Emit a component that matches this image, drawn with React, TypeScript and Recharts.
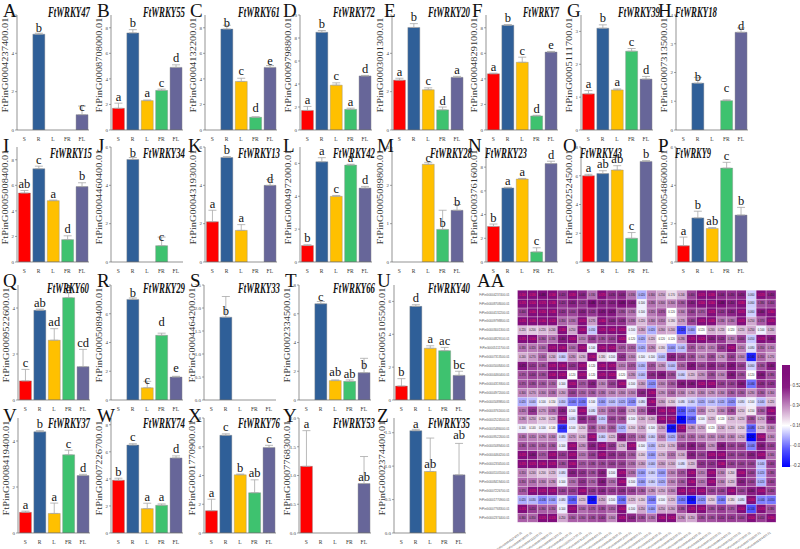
import React from "react";
import { BarChart, Bar, XAxis, YAxis, ErrorBar, LabelList, Cell, ScatterChart, Scatter } from "recharts";

const SERIF = "'Liberation Serif', 'Times New Roman', serif";

// ---------- expression panels ----------
const tissues = ["S", "R", "L", "FR", "FL"];

const panelLetters = ["A", "B", "C", "D", "E", "F", "G", "H", "I", "J", "K", "L", "M", "N", "O", "P", "Q", "R", "S", "T", "U", "V", "W", "X", "Y", "Z"];

const geneNames = [
  "FtWRKY47", "FtWRKY55", "FtWRKY61", "FtWRKY72", "FtWRKY20", "FtWRKY7", "FtWRKY39", "FtWRKY18",
  "FtWRKY15", "FtWRKY34", "FtWRKY13", "FtWRKY42", "FtWRKY28", "FtWRKY23", "FtWRKY43", "FtWRKY9",
  "FtWRKY60", "FtWRKY29", "FtWRKY33", "FtWRKY66", "FtWRKY40",
  "FtWRKY37", "FtWRKY74", "FtWRKY76", "FtWRKY53", "FtWRKY35",
];

const geneIds = [
  "FtPinG0004237400.01", "FtPinG0008708000.01", "FtPinG0004132200.01", "FtPinG0009798800.01",
  "FtPinG0003001300.01", "FtPinG0004829100.01", "FtPinG0005111700.01", "FtPinG0007313500.01",
  "FtPinG0005008400.01", "FtPinG0004460400.01", "FtPinG0004319300.01", "FtPinG0004972000.01",
  "FtPinG0005089800.01", "FtPinG0003761600.01", "FtPinG0002524500.01", "FtPinG0005486000.01",
  "FtPinG0009522600.01", "FtPinG0005089400.01", "FtPinG0004464200.01", "FtPinG0002334500.01",
  "FtPinG0005105500.01", "FtPinG0008419400.01", "FtPinG0007226700.01", "FtPinG0001770900.01",
  "FtPinG0007768300.01", "FtPinG0002374400.01",
];

// relative expression, order S, R, L, FR, FL
const expression = [
  [0, 5.0, 0, 0, 0.8],
  [1.7, 7.6, 2.3, 3.1, 4.9],
  [0, 7.9, 3.8, 1.0, 4.9],
  [1.7, 8.5, 3.9, 1.8, 4.7],
  [2.6, 5.35, 2.1, 1.05, 2.75],
  [4.4, 8.2, 5.3, 1.1, 6.1],
  [1.1, 3.1, 1.22, 2.4, 1.55],
  [0, 1.63, 0, 1.02, 3.4],
  [5.4, 7.3, 4.8, 1.75, 5.9],
  [0, 5.35, 0, 0.85, 0],
  [2.1, 5.45, 1.65, 0, 4.0],
  [1.0, 6.1, 4.0, 5.9, 4.5],
  [0, 0, 2.55, 0.85, 1.35],
  [3.0, 6.25, 7.0, 0.85, 8.3],
  [6.0, 6.15, 6.4, 1.65, 7.0],
  [0.85, 2.3, 1.75, 4.9, 2.45],
  [0.83, 3.9, 2.6, 4.45, 1.45],
  [0, 7.0, 0.85, 4.5, 1.6],
  [0, 1.8, 0, 0, 0],
  [0, 6.7, 1.35, 1.3, 1.9],
  [0.85, 5.7, 3.15, 3.0, 1.5],
  [0.9, 4.4, 0.85, 3.4, 2.5],
  [3.9, 6.5, 1.8, 2.05, 5.55],
  [1.55, 6.8, 4.05, 2.8, 5.95],
  [1.16, 0, 0, 0, 0.86],
  [0, 1.53, 0.92, 0, 0.87],
];

const errors = [
  [0, 0.05, 0, 0, 0.45],
  [0.4, 0.25, 0.05, 0.1, 0.2],
  [0, 0.3, 0.25, 0.03, 0.15],
  [0.35, 0.15, 0.2, 0.1, 0.05],
  [0.1, 0.2, 0.1, 0.15, 0.05],
  [0.05, 0.05, 0.4, 0.05, 0.05],
  [0.1, 0.1, 0.03, 0.08, 0.08],
  [0, 0.2, 0, 0.03, 0.15],
  [0.2, 0.2, 0.05, 0.3, 0.3],
  [0, 0.1, 0, 0.45, 0],
  [0.6, 0.05, 0.3, 0, 0.3],
  [0.05, 0.25, 0.05, 0.05, 0.1],
  [0, 0, 0.05, 0.5, 0.15],
  [0.2, 0.05, 0.05, 0.35, 0.2],
  [0.1, 0.2, 0.3, 0.4, 0.05],
  [0.45, 0.35, 0.05, 0.3, 0.4],
  [0.5, 0.05, 0.5, 0.2, 0.75],
  [0, 0.1, 0.45, 0.15, 0.05],
  [0, 0.45, 0, 0, 0],
  [0, 0.15, 0.05, 0.1, 1.0],
  [0.45, 0.1, 0.15, 0.2, 0.25],
  [0.05, 0.05, 0.45, 0.2, 0.05],
  [0.15, 0.1, 0.4, 0.1, 0.15],
  [0.8, 0.1, 0.05, 0.9, 0.15],
  [0.62, 0, 0, 0, 0.47],
  [0, 0.02, 0.5, 0, 0.47],
];

const sigLetters = [
  ["a", "b", "a", "a", "c"],
  ["a", "b", "a", "c", "d"],
  ["a", "b", "c", "d", "e"],
  ["a", "b", "c", "a", "d"],
  ["a", "b", "c", "d", "a"],
  ["a", "b", "c", "d", "e"],
  ["a", "b", "a", "c", "d"],
  ["a", "b", "a", "c", "d"],
  ["ab", "c", "a", "d", "b"],
  ["a", "b", "a", "c", "a"],
  ["a", "b", "a", "c", "d"],
  ["b", "a", "c", "a", "d"],
  ["a", "a", "c", "b", "b"],
  ["b", "a", "a", "c", "d"],
  ["a", "ab", "ab", "c", "b"],
  ["a", "b", "ab", "c", "b"],
  ["c", "ab", "ad", "a", "cd"],
  ["a", "b", "c", "d", "e"],
  ["a", "b", "a", "a", "a"],
  ["a", "c", "ab", "ab", "b"],
  ["b", "d", "a", "ac", "bc"],
  ["a", "b", "a", "c", "d"],
  ["b", "c", "a", "a", "d"],
  ["a", "c", "b", "ab", "c"],
  ["a", "b", "b", "b", "ab"],
  ["b", "a", "ab", "b", "ab"],
];

const yMax = [6, 9, 9, 10, 6, 9, 3.5, 4, 9, 6, 6, 7, 3, 9.7, 8, 6, 5, 8, 2.5, 8, 7, 5, 8.5, 8, 2, 1.72];

const yTicks = [
  [0, 2, 4, 6], [0, 2, 4, 6, 8], [0, 2, 4, 6, 8], [0, 2, 4, 6, 8, 10],
  [0, 2, 4, 6], [0, 2, 4, 6, 8], [0, 1, 2, 3], [0, 1, 2, 3, 4],
  [0, 2, 4, 6, 8], [0, 2, 4, 6], [0, 2, 4, 6], [0, 2, 4, 6],
  [0, 1, 2, 3], [0, 2, 4, 6, 8], [0, 2, 4, 6, 8], [0, 2, 4, 6],
  [0, 2, 4], [0, 2, 4, 6, 8], [0, 0.5, 1, 1.5, 2, 2.5], [0, 2, 4, 6, 8], [0, 2, 4, 6],
  [0, 2, 4], [0, 2, 4, 6, 8], [0, 2, 4, 6, 8], [0, 0.5, 1, 1.5, 2], [0, 0.5, 1, 1.5],
];

// ---------- heatmap ----------
const heatValues = [
  [0.50, 0.58, 0.48, 0.56, 0.42, 0.58, 0.44, 0.33, 0.57, 0.43, 0.44, 0.33, 0.02, 0.30, 0.25, 0.17, 0.24, 0.40, 0.57, 0.58, 0.44, 0.43, 0.45, 0.06, 0.57, 0.45],
  [0.57, 0.50, 0.57, 0.58, 0.42, 0.45, 0.42, 0.48, 0.45, 0.45, 0.48, 0.45, 0.10, 0.33, 0.30, 0.30, 0.36, 0.45, 0.50, 0.56, 0.48, 0.45, 0.58, 0.06, 0.38, 0.40],
  [0.40, 0.56, 0.55, 0.58, 0.42, 0.40, 0.45, 0.42, 0.47, 0.47, 0.38, 0.33, 0.10, 0.32, 0.37, 0.12, 0.30, 0.40, 0.37, 0.57, 0.42, 0.45, 0.57, 0.06, 0.46, 0.56],
  [0.57, 0.58, 0.56, 0.52, 0.35, 0.33, 0.57, 0.27, 0.56, 0.44, 0.43, 0.33, 0.22, 0.30, 0.31, 0.18, 0.27, 0.40, 0.57, 0.58, 0.33, 0.33, 0.57, 0.25, 0.37, 0.57],
  [0.22, 0.20, 0.22, 0.24, 0.58, 0.25, 0.56, 0.05, 0.57, 0.56, 0.55, 0.10, 0.26, 0.02, 0.26, 0.24, -0.12, 0.00, 0.12, 0.24, 0.22, 0.12, 0.22, 0.25, 0.10, 0.24],
  [0.57, 0.50, 0.36, 0.33, 0.46, 0.55, 0.31, 0.40, 0.38, 0.40, 0.52, 0.12, 0.02, 0.22, 0.12, 0.12, 0.28, 0.57, 0.52, 0.45, 0.42, 0.31, 0.40, 0.05, 0.57, 0.46],
  [0.33, 0.32, 0.34, 0.57, 0.56, 0.34, 0.55, 0.10, 0.52, 0.52, 0.37, 0.35, 0.02, 0.29, 0.18, 0.00, 0.04, 0.37, 0.31, 0.31, 0.41, 0.52, 0.31, 0.08, 0.35, 0.31],
  [0.24, 0.27, 0.34, 0.24, 0.06, 0.28, 0.23, 0.56, 0.18, 0.10, 0.42, 0.30, 0.10, 0.10, 0.04, 0.45, 0.40, 0.38, 0.30, 0.38, 0.28, 0.40, 0.30, -0.16, 0.35, 0.27],
  [0.47, 0.41, 0.38, 0.57, 0.56, 0.42, 0.57, 0.12, 0.52, 0.57, 0.31, 0.37, 0.03, 0.37, 0.28, 0.04, 0.35, 0.47, 0.40, 0.45, 0.40, 0.47, 0.40, 0.06, 0.38, 0.46],
  [0.37, 0.40, 0.38, 0.50, 0.52, 0.12, 0.57, 0.12, 0.57, 0.52, 0.12, 0.28, 0.04, 0.43, 0.46, 0.38, 0.06, 0.22, 0.28, 0.38, 0.30, 0.46, 0.38, 0.12, 0.46, 0.38],
  [0.37, 0.38, 0.36, 0.35, 0.10, 0.55, 0.37, 0.45, 0.30, 0.40, 0.55, 0.10, 0.26, -0.02, 0.30, 0.36, 0.46, 0.46, 0.52, 0.57, 0.40, 0.40, 0.46, -0.06, 0.43, 0.42],
  [0.30, 0.27, 0.30, 0.33, 0.26, 0.40, 0.35, 0.36, 0.33, 0.30, 0.30, 0.30, 0.44, 0.55, 0.28, 0.34, 0.30, 0.26, 0.30, 0.28, 0.30, 0.36, 0.36, 0.28, 0.36, 0.30],
  [0.02, 0.04, 0.10, 0.15, 0.05, -0.04, -0.05, 0.10, 0.00, 0.04, 0.02, -0.02, 0.08, 0.56, 0.26, 0.20, 0.08, 0.06, 0.02, 0.04, 0.02, -0.02, 0.08, 0.10, 0.04, 0.22],
  [0.32, 0.42, 0.27, 0.33, 0.45, 0.10, 0.55, 0.08, 0.31, 0.36, 0.40, 0.23, 0.35, 0.47, 0.56, 0.56, -0.10, -0.03, 0.31, 0.21, 0.30, 0.38, 0.21, 0.15, 0.36, 0.50],
  [0.28, 0.25, 0.20, 0.22, 0.56, 0.08, 0.44, 0.40, 0.05, 0.40, 0.38, 0.10, 0.24, 0.24, 0.56, 0.56, -0.20, -0.08, 0.10, 0.22, 0.12, 0.22, 0.22, 0.38, 0.25, 0.45],
  [0.10, 0.14, 0.10, 0.14, -0.14, 0.10, 0.20, 0.38, 0.30, 0.36, 0.02, 0.20, 0.25, 0.10, 0.26, -0.18, 0.52, 0.28, 0.25, 0.12, 0.24, 0.22, 0.20, -0.08, 0.22, 0.30],
  [0.33, 0.31, 0.29, 0.30, 0.08, 0.27, 0.24, 0.50, 0.06, 0.22, 0.45, 0.37, 0.30, 0.06, 0.30, 0.02, 0.34, 0.35, 0.30, 0.30, 0.30, 0.30, 0.25, -0.20, 0.50, 0.30],
  [0.38, 0.36, 0.35, 0.36, 0.10, 0.55, 0.28, 0.45, 0.52, 0.42, 0.23, 0.57, 0.10, 0.03, 0.21, 0.23, 0.40, 0.46, 0.40, 0.28, 0.46, 0.40, 0.40, -0.04, 0.46, 0.40],
  [0.57, 0.46, 0.37, 0.57, 0.41, 0.57, 0.32, 0.40, 0.57, 0.43, 0.41, 0.36, 0.20, 0.00, 0.23, 0.32, 0.24, 0.45, 0.40, 0.57, 0.57, 0.40, 0.40, 0.45, 0.57, 0.34],
  [0.57, 0.57, 0.56, 0.57, 0.38, 0.56, 0.37, 0.38, 0.39, 0.40, 0.40, 0.33, 0.26, 0.04, 0.26, 0.24, 0.08, 0.22, 0.42, 0.42, 0.56, 0.40, 0.40, 0.40, 0.04, 0.40],
  [0.31, 0.24, 0.20, 0.22, 0.08, 0.45, 0.42, 0.38, 0.45, 0.10, 0.57, 0.33, 0.00, 0.06, 0.00, 0.30, 0.37, 0.52, 0.31, 0.57, 0.30, 0.20, 0.50, 0.40, 0.02, 0.38],
  [0.35, 0.33, 0.30, 0.28, 0.10, 0.33, 0.42, 0.35, 0.46, 0.33, 0.55, 0.10, 0.00, 0.06, 0.02, 0.30, 0.36, 0.50, 0.32, 0.57, 0.30, 0.22, 0.45, 0.40, 0.02, 0.40],
  [0.37, 0.57, 0.57, 0.57, 0.40, 0.41, 0.50, 0.42, 0.44, 0.41, 0.43, 0.40, 0.36, 0.28, 0.25, 0.30, 0.52, 0.57, 0.52, 0.40, 0.40, 0.50, 0.40, 0.46, 0.57, 0.40],
  [0.02, 0.03, -0.03, 0.00, 0.08, -0.08, 0.22, -0.18, 0.25, 0.10, -0.06, 0.22, 0.20, -0.04, 0.10, 0.22, -0.05, -0.18, -0.02, 0.20, -0.04, 0.18, 0.08, 0.56, -0.04, -0.05],
  [0.57, 0.41, 0.36, 0.35, 0.10, 0.57, 0.34, 0.37, 0.38, 0.35, 0.50, 0.10, 0.25, 0.00, 0.25, 0.26, 0.38, 0.57, 0.57, 0.38, 0.41, 0.37, 0.50, -0.10, 0.57, 0.38],
  [0.36, 0.35, 0.57, 0.57, 0.25, 0.36, 0.36, 0.38, 0.40, 0.30, 0.57, 0.44, 0.38, 0.33, 0.56, 0.52, 0.29, 0.25, 0.38, 0.38, 0.41, 0.41, 0.40, 0.50, 0.41, 0.55],
];

const legendTicks = [0.52, 0.34, 0.16, -0.02, -0.2];

// ---------- layout ----------
const BAR_COLORS = ["#ff0000", "#2f5f98", "#ffc000", "#3ec26f", "#676699"];
const ROW_START = [0, 8, 16, 21];
const ROW_TOP = [15, 147, 285, 418];
const PLOT_H = 115;
const AXIS_X = [
  [17, 111, 205, 300, 392, 486, 581, 676],
  [17, 111, 205, 300, 392, 486, 581, 676],
  [18, 111, 204, 299, 394],
  [18, 111, 204, 299, 394],
];
const LETTER_X = [
  [3, 97, 190, 283, 384, 472, 567, 658],
  [3, 97, 188, 283, 377, 468, 563, 658],
  [3, 97, 190, 285, 377],
  [3, 97, 188, 283, 377],
];
const LETTER_Y = [17, 152, 287, 422];
const TITLE_X = [
  [48, 143, 238, 333, 428, 523, 618, 675],
  [50, 143, 238, 333, 430, 485, 580, 675],
  [47, 143, 238, 333, 428],
  [48, 143, 238, 333, 428],
];
const TITLE_Y = [17, 158, 293, 428];

function panelPos(idx: number) {
  let row = 0;
  for (let r = 0; r < ROW_START.length; r++) if (idx >= ROW_START[r]) row = r;
  return [row, idx - ROW_START[row]];
}

function ExpressionPanel({ idx }: { idx: number }) {
  const [row, col] = panelPos(idx);
  const ax = AXIS_X[row][col];
  const top = ROW_TOP[row];
  const data = tissues.map((t, k) => ({
    tissue: t,
    value: expression[idx][k],
    err: [0, errors[idx][k]],
    sig: sigLetters[idx][k],
  }));
  const pxPerUnit = PLOT_H / yMax[idx];
  const decimals = yTicks[idx].some((t) => t % 1 !== 0);

  return (
    <div style={{ position: "absolute", left: ax - 18, top: top - 8 }}>
      <BarChart
        width={94}
        height={PLOT_H + 20}
        data={data}
        margin={{ top: 8, right: 4, bottom: 2, left: 0 }}
        barCategoryGap="10%"
      >
        <XAxis
          dataKey="tissue"
          height={10}
          interval={0}
          tickLine={false}
          axisLine={{ stroke: "#666", strokeWidth: 0.7 }}
          tick={{ fontSize: 5.5, fill: "#333", fontFamily: SERIF }}
          tickMargin={1}
        />
        <YAxis
          width={18}
          type="number"
          domain={[0, yMax[idx]]}
          ticks={yTicks[idx]}
          interval={0}
          allowDataOverflow
          tickSize={2}
          tickMargin={1}
          tickFormatter={(v: number) => (decimals ? v.toFixed(1) : String(v))}
          axisLine={{ stroke: "#666", strokeWidth: 0.7 }}
          tickLine={{ stroke: "#666", strokeWidth: 0.6 }}
          tick={{ fontSize: 5, fill: "#444", fontFamily: SERIF }}
        />
        <Bar dataKey="value" isAnimationActive={false} stroke="#8c8c8c" strokeWidth={0.4}>
          {data.map((d, k) => (
            <Cell key={k} fill={BAR_COLORS[k]} />
          ))}
          <ErrorBar dataKey="err" width={4} stroke="#a8a8a8" strokeWidth={0.8} direction="y" isAnimationActive={false} />
          <LabelList
            dataKey="sig"
            content={(p: any) => {
              const k = p.index ?? 0;
              const e = errors[idx][k] ?? 0;
              const x = Number(p.x) + Number(p.width) / 2;
              const y = Number(p.y) - e * pxPerUnit - 2.5;
              return (
                <text x={x} y={y} textAnchor="middle" fontSize={12.5} fontFamily={SERIF} fill="#111">
                  {p.value}
                </text>
              );
            }}
          />
        </Bar>
      </BarChart>
    </div>
  );
}

// ---------- heatmap helpers ----------
const HI = [128, 14, 124];
const LO = [0, 0, 255];
const WHITE_AT = 0.12;
function mix(a: number[], t: number) {
  const c = a.map((v) => Math.round(255 + (v - 255) * t));
  return `rgb(${c[0]},${c[1]},${c[2]})`;
}
function heatColor(v: number) {
  if (v >= WHITE_AT) return mix(HI, Math.min(1, (v - WHITE_AT) / 0.36));
  return mix(LO, Math.min(1, (WHITE_AT - v) / 0.32));
}

const HM_W = 258.5;
const HM_H = 232;
const CELL_W = HM_W / geneIds.length;
const CELL_H = HM_H / heatValues.length;

const heatData = heatValues.flatMap((r, ri) => r.map((v, ci) => ({ x: ci, y: ri, v })));
const idxTicks = geneIds.map((_, i) => i);

const HeatCell = (p: any) => {
  const v = p.payload.v;
  return (
    <g>
      <rect x={p.cx - CELL_W / 2} y={p.cy - CELL_H / 2} width={CELL_W} height={CELL_H} fill={heatColor(v)} stroke="#f2eaf2" strokeWidth={0.3} />
      <text x={p.cx} y={p.cy + 0.9} textAnchor="middle" fontSize={2.6} fontFamily="Arial, sans-serif" fill={v >= 0.5 ? "#f0205a" : "#1a1a1a"}>
        {v.toFixed(3)}
      </text>
    </g>
  );
};

const ColTick = (p: any) => {
  const x = p.x;
  const y = p.y + 3;
  return (
    <text x={x} y={y} transform={`rotate(-35 ${x} ${y})`} textAnchor="end" fontSize={3} fill="#555" fontFamily="Arial, sans-serif">
      {geneIds[p.payload.value]}
    </text>
  );
};

function Heatmap() {
  return (
    <div style={{ position: "absolute", left: 468, top: 285 }}>
      <ScatterChart width={312} height={264} margin={{ top: 5.2, right: 4, bottom: 0, left: 0 }}>
        <XAxis
          type="number"
          dataKey="x"
          domain={[-0.5, geneIds.length - 0.5]}
          ticks={idxTicks}
          interval={0}
          height={26.8}
          tickLine={false}
          axisLine={false}
          tick={<ColTick />}
        />
        <YAxis
          type="number"
          dataKey="y"
          reversed
          domain={[-0.5, heatValues.length - 0.5]}
          ticks={idxTicks}
          interval={0}
          width={49.5}
          tickLine={false}
          axisLine={false}
          tickMargin={2}
          tickFormatter={(v: number) => geneIds[v]}
          tick={{ fontSize: 3, fill: "#555", fontFamily: "Arial, sans-serif" }}
        />
        <Scatter data={heatData} isAnimationActive={false} shape={<HeatCell />} />
      </ScatterChart>
    </div>
  );
}

const LEG_TOP = 365;
const LEG_H = 102;
const LEG_MAX = 0.7;
const LEG_MIN = -0.21;
function legendY(v: number) {
  return LEG_TOP + ((LEG_MAX - v) / (LEG_MAX - LEG_MIN)) * LEG_H;
}

function ColorLegend() {
  const stops = [0.7, 0.62, 0.5, 0.4, 0.3, 0.2, 0.16, 0.05, -0.05, -0.21];
  return (
    <svg width={800} height={549} style={{ position: "absolute", left: 0, top: 0, pointerEvents: "none" }}>
      <defs>
        <linearGradient id="heatGrad" x1="0" y1="0" x2="0" y2="1">
          {stops.map((v) => (
            <stop key={v} offset={(LEG_MAX - v) / (LEG_MAX - LEG_MIN)} stopColor={heatColor(v - 0.04)} />
          ))}
        </linearGradient>
      </defs>
      <rect x={782} y={LEG_TOP} width={8} height={LEG_H} fill="url(#heatGrad)" />
      {legendTicks.map((t) => (
        <g key={t}>
          <line x1={790} x2={791.5} y1={legendY(t)} y2={legendY(t)} stroke="#666" strokeWidth={0.4} />
          <text x={792.5} y={legendY(t) + 1.5} fontSize={4.5} fill="#444" fontFamily="Arial, sans-serif">
            {t.toFixed(2)}
          </text>
        </g>
      ))}
    </svg>
  );
}

function Overlay() {
  return (
    <svg width={800} height={549} style={{ position: "absolute", left: 0, top: 0, pointerEvents: "none" }}>
      {geneNames.map((name, idx) => {
        const [row, col] = panelPos(idx);
        const ax = AXIS_X[row][col];
        const top = ROW_TOP[row];
        return (
          <g key={name}>
            <text x={LETTER_X[row][col]} y={LETTER_Y[row]} fontSize={19} fontFamily={SERIF} fill="#111">
              {panelLetters[idx]}
            </text>
            <text
              x={TITLE_X[row][col]}
              y={TITLE_Y[row]}
              fontSize={14}
              fontWeight="bold"
              fontStyle="italic"
              fontFamily={SERIF}
              fill="#111"
              textLength={name.length > 7 ? 42 : 36}
              lengthAdjust="spacingAndGlyphs"
            >
              {name}
            </text>
            <text
              transform={`translate(${ax - 12},${top + 50}) rotate(-90)`}
              textAnchor="middle"
              dominantBaseline="central"
              fontSize={8.5}
              fontFamily={SERIF}
              fill="#333"
              textLength={95}
              lengthAdjust="spacingAndGlyphs"
            >
              {geneIds[idx]}
            </text>
          </g>
        );
      })}
      <text x={477} y={287} fontSize={19} fontFamily={SERIF} fill="#111">
        AA
      </text>
    </svg>
  );
}

export default function App() {
  return (
    <div
      style={{
        position: "absolute",
        left: 0,
        top: 0,
        width: 800,
        height: 549,
        background: "#ffffff",
        overflow: "hidden",
        fontFamily: SERIF,
      }}
    >
      {geneNames.map((_, idx) => (
        <ExpressionPanel key={idx} idx={idx} />
      ))}
      <Heatmap />
      <ColorLegend />
      <Overlay />
    </div>
  );
}
